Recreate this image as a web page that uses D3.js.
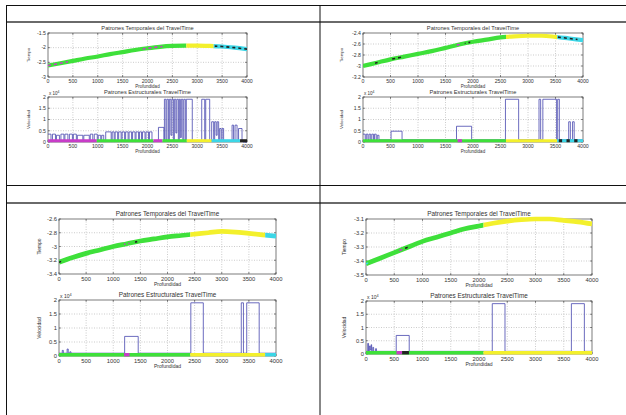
<!DOCTYPE html>
<html>
<head>
<meta charset="utf-8">
<script src="https://cdn.jsdelivr.net/npm/d3@7"></script>
<style>
  body { margin: 0; background: #fff; }
  svg text { font-family: "Liberation Sans", Arial, sans-serif; fill: #333; }
</style>
</head>
<body>
<div id="chart"></div>
<script>
// ---- data ----
var profundidad = [0, 250, 500, 750, 1000, 1250, 1500, 1750, 2000, 2250, 2500, 2750, 3000, 3250, 3500, 3750, 4000];
var depthTicks = [0, 500, 1000, 1500, 2000, 2500, 3000, 3500, 4000];
var velTicks = [0, 0.5, 1, 1.5, 2];

// panel 1 (arriba izquierda)
var tiempo1 = [-2.61, -2.53, -2.45, -2.37, -2.30, -2.22, -2.15, -2.08, -2.02, -1.97, -1.94, -1.93, -1.93, -1.94, -1.96, -2.00, -2.05];
var tiempoTicks1 = [-3, -2.5, -2, -1.5];
var tramos1 = [[0, 2780, "verde"], [2780, 3330, "amarillo"], [3330, 4000, "cian"]];
var trazos1 = [[0, 400, "magenta"], [1900, 2300, "magenta"], [3350, 4000, "negro"]];
var velocidad1 = [[0, 0.35], [60, 0.02], [90, 0.35], [150, 0.02], [170, 0.3], [230, 0.02], [260, 0.35], [320, 0.02], [340, 0.35], [400, 0.02],
  [430, 0.35], [490, 0.02], [510, 0.35], [570, 0.02], [590, 0.3], [700, 0.02], [720, 0.3], [830, 0.02], [850, 0.35], [900, 0.02],
  [930, 0.35], [990, 0.02], [1010, 0.3], [1060, 0.02], [1080, 0.3], [1120, 0.02], [1160, 0.45], [1270, 0.02], [1290, 0.45], [1330, 0.02],
  [1350, 0.45], [1400, 0.02], [1420, 0.45], [1470, 0.02], [1490, 0.45], [1540, 0.02], [1560, 0.45], [1610, 0.02], [1630, 0.45], [1680, 0.02],
  [1700, 0.45], [1750, 0.02], [1770, 0.45], [1820, 0.02], [1840, 0.45], [1880, 0.02], [1900, 0.45], [1950, 0.02], [1970, 0.45], [2020, 0.02],
  [2040, 0.45], [2090, 0.02], [2150, 0.05], [2220, 0.65], [2330, 0.05], [2340, 1.9], [2370, 0.1], [2390, 1.9], [2420, 0.1], [2440, 1.9],
  [2470, 0.3], [2490, 1.9], [2520, 0.1], [2540, 1.9], [2570, 0.4], [2590, 1.9], [2620, 0.1], [2640, 1.9], [2660, 0.2], [2680, 1.9],
  [2710, 0.1], [2730, 1.9], [2760, 0.1], [2780, 1.9], [2900, 0.05], [3090, 1.9], [3150, 0.05], [3170, 1.9], [3250, 0.05], [3290, 0.9],
  [3330, 0.05], [3350, 0.9], [3380, 0.3], [3400, 0.9], [3430, 0.05], [3450, 0.6], [3480, 0.05], [3500, 0.6], [3530, 0.05], [3700, 0.75],
  [3730, 0.05], [3760, 0.75], [3800, 0.05], [3830, 0.6], [3900, 0.05], [3920, 0], [4000, 0]];
var base1 = [[0, 980, "magenta"], [980, 2120, "verde"], [2120, 2300, "magenta"], [2300, 2790, "verde"], [2790, 3290, "amarillo"], [3290, 3860, "cian"], [3860, 4000, "negro"]];

// panel 2 (arriba derecha)
var tiempo2 = [-3.00, -2.94, -2.88, -2.83, -2.78, -2.73, -2.67, -2.61, -2.56, -2.52, -2.48, -2.46, -2.45, -2.45, -2.47, -2.50, -2.53];
var tiempoTicks2 = [-3.2, -3, -2.8, -2.6, -2.4];
var tramos2 = [[0, 2600, "verde"], [2600, 3530, "amarillo"], [3530, 4000, "cian"]];
var trazos2 = [[220, 300, "negro"], [500, 720, "negro"], [1700, 1780, "magenta"], [1850, 1950, "negro"], [3530, 3900, "negro"]];
var velocidad2 = [[0, 0.35], [40, 0.1], [60, 0.35], [90, 0.1], [110, 0.35], [140, 0.1], [160, 0.35], [190, 0.1], [210, 0.35], [240, 0.1],
  [260, 0.3], [290, 0.1], [510, 0.48], [710, 0.1], [1700, 0.7], [1975, 0.1], [2590, 1.9], [2830, 0.1], [3200, 1.9], [3230, 0.1],
  [3270, 1.9], [3520, 0.1], [3540, 1.9], [3570, 0.1], [3740, 0.9], [3770, 0.1], [3810, 0.9], [3840, 0.1], [4000, 0.1]];
var base2 = [[0, 2600, "verde"], [1720, 1800, "magenta"], [2600, 3530, "amarillo"], [3530, 4000, "cian"], [3560, 3620, "negro"], [3700, 3760, "negro"], [3840, 3900, "negro"]];

// panel 3 (abajo izquierda)
var tiempo3 = [-3.23, -3.16, -3.10, -3.05, -3.00, -2.96, -2.92, -2.89, -2.86, -2.84, -2.82, -2.80, -2.78, -2.79, -2.81, -2.83, -2.85];
var tiempoTicks3 = [-3.4, -3.2, -3, -2.8, -2.6];
var tramos3 = [[0, 2420, "verde"], [2420, 3800, "amarillo"], [3800, 4000, "cian"]];
var trazos3 = [[0, 40, "negro"], [1200, 1300, "magenta"], [1400, 1480, "negro"]];
var velocidad3 = [[0, 0.1], [60, 0.2], [80, 0.1], [150, 0.25], [170, 0.1], [200, 0.15], [220, 0.1], [1210, 0.7], [1460, 0.1],
  [2430, 1.9], [2660, 0.1], [3360, 1.9], [3400, 0.1], [3460, 1.9], [3690, 0.1], [4000, 0.1]];
var base3 = [[0, 2420, "verde"], [1200, 1300, "magenta"], [2420, 3800, "amarillo"], [3800, 4000, "cian"]];

// panel 4 (abajo derecha)
var tiempo4 = [-3.42, -3.38, -3.34, -3.30, -3.26, -3.23, -3.20, -3.17, -3.15, -3.13, -3.115, -3.105, -3.10, -3.10, -3.11, -3.12, -3.135];
var tiempoTicks4 = [-3.5, -3.4, -3.3, -3.2, -3.1];
var tramos4 = [[0, 2080, "verde"], [2080, 4000, "amarillo"]];
var trazos4 = [[0, 40, "cian"], [580, 650, "magenta"], [680, 740, "negro"]];
var velocidad4 = [[0, 0.1], [30, 0.4], [45, 0.1], [60, 0.3], [75, 0.15], [90, 0.35], [100, 0.1], [120, 0.25], [135, 0.1], [170, 0.2],
  [185, 0.1], [535, 0.7], [765, 0.1], [2235, 1.9], [2460, 0.1], [3635, 1.9], [3865, 0.1], [4000, 0.1]];
var base4 = [[0, 2080, "verde"], [540, 640, "magenta"], [640, 760, "negro"], [2080, 4000, "amarillo"]];

var colores = d3.scaleOrdinal()
  .domain(["verde", "amarillo", "cian", "magenta", "negro"])
  .range(["#3ee03a", "#f3f02c", "#3cd6e6", "#c83cc8", "#222"]);

// ---- layout ----
var W = 626, H = 415;
var svg = d3.select("#chart").append("svg").attr("width", W).attr("height", H);

// table lines
svg.append("line").attr("x1", 6).attr("x2", W).attr("y1", 5.5).attr("y2", 5.5).attr("stroke", "#111").attr("stroke-width", 1);
svg.append("line").attr("x1", 6).attr("x2", W).attr("y1", 22).attr("y2", 22).attr("stroke", "#6a6a6a").attr("stroke-width", 2);
svg.append("line").attr("x1", 6).attr("x2", W).attr("y1", 185.5).attr("y2", 185.5).attr("stroke", "#111").attr("stroke-width", 1);
svg.append("line").attr("x1", 6).attr("x2", W).attr("y1", 203).attr("y2", 203).attr("stroke", "#6a6a6a").attr("stroke-width", 2);
svg.append("line").attr("x1", 6.5).attr("x2", 6.5).attr("y1", 5).attr("y2", H).attr("stroke", "#111").attr("stroke-width", 1);
svg.append("line").attr("x1", 320).attr("x2", 320).attr("y1", 5).attr("y2", H).attr("stroke", "#111").attr("stroke-width", 1);

var panels = [
  {x0: 48, x1: 247, top: [33, 77], bot: [97, 142], ylx: 28, k: 1, tiempo: tiempo1, tt: tiempoTicks1, tramos: tramos1, trazos: trazos1, vel: velocidad1, base: base1},
  {x0: 363, x1: 583, top: [33, 77], bot: [97, 142], ylx: 341, k: 1, tiempo: tiempo2, tt: tiempoTicks2, tramos: tramos2, trazos: trazos2, vel: velocidad2, base: base2},
  {x0: 59, x1: 276, top: [219, 274], bot: [300, 356], ylx: 39, k: 1.12, tiempo: tiempo3, tt: tiempoTicks3, tramos: tramos3, trazos: trazos3, vel: velocidad3, base: base3},
  {x0: 366, x1: 592, top: [219, 275], bot: [301, 354], ylx: 344, k: 1.12, tiempo: tiempo4, tt: tiempoTicks4, tramos: tramos4, trazos: trazos4, vel: velocidad4, base: base4}
];

var clipId = 0;

function drawAxes(g, x, y, yTicks, p, title, ylabel, yTop, yBot) {
  var k = p.k;
  // grid
  g.append("g").selectAll("line").data(depthTicks.slice(1, -1)).enter().append("line")
    .attr("x1", d => x(d)).attr("x2", d => x(d)).attr("y1", yTop).attr("y2", yBot)
    .attr("stroke", "#aaa").attr("stroke-width", 0.6).attr("stroke-dasharray", "1,1.5");
  g.append("g").selectAll("line").data(yTicks.slice(1, -1)).enter().append("line")
    .attr("x1", p.x0).attr("x2", p.x1).attr("y1", d => y(d)).attr("y2", d => y(d))
    .attr("stroke", "#aaa").attr("stroke-width", 0.6).attr("stroke-dasharray", "1,1.5");
  // box + inward ticks
  g.append("rect").attr("x", p.x0).attr("y", yTop).attr("width", p.x1 - p.x0).attr("height", yBot - yTop)
    .attr("fill", "none").attr("stroke", "#444").attr("stroke-width", 0.7);
  var tk = g.append("g").attr("stroke", "#444").attr("stroke-width", 0.6);
  depthTicks.forEach(function(d) {
    tk.append("line").attr("x1", x(d)).attr("x2", x(d)).attr("y1", yBot).attr("y2", yBot - 2);
    tk.append("line").attr("x1", x(d)).attr("x2", x(d)).attr("y1", yTop).attr("y2", yTop + 2);
  });
  yTicks.forEach(function(d) {
    tk.append("line").attr("x1", p.x0).attr("x2", p.x0 + 2).attr("y1", y(d)).attr("y2", y(d));
    tk.append("line").attr("x1", p.x1).attr("x2", p.x1 - 2).attr("y1", y(d)).attr("y2", y(d));
  });
  // tick labels
  g.append("g").selectAll("text").data(depthTicks).enter().append("text")
    .attr("x", d => x(d)).attr("y", yBot + 6.3 * k)
    .attr("text-anchor", "middle").attr("font-size", 5.2 * k).text(d => d);
  g.append("g").selectAll("text").data(yTicks).enter().append("text")
    .attr("x", p.x0 - 2).attr("y", d => y(d) + 1.8 * k)
    .attr("text-anchor", "end").attr("font-size", 5.2 * k).text(d => String(d));
  // labels
  g.append("text").attr("x", (p.x0 + p.x1) / 2).attr("y", yBot + 10.8 * k)
    .attr("text-anchor", "middle").attr("font-size", 4.5 * k).text("Profundidad");
  g.append("text").attr("transform", "translate(" + (p.ylx + 1.5) + "," + ((yTop + yBot) / 2) + ") rotate(-90)")
    .attr("text-anchor", "middle").attr("font-size", 4.4 * k).text(ylabel);
  g.append("text").attr("x", (p.x0 + p.x1) / 2).attr("y", yTop - 3)
    .attr("text-anchor", "middle").attr("font-size", 5.7 * k).text(title);
}

function clipRange(g, x, a, b, yTop, yBot) {
  var id = "clip" + (clipId++);
  g.append("clipPath").attr("id", id).append("rect")
    .attr("x", x(a)).attr("width", x(b) - x(a)).attr("y", yTop - 10).attr("height", yBot - yTop + 20);
  return "url(#" + id + ")";
}

panels.forEach(function(p) {
  var g = svg.append("g");
  var x = d3.scaleLinear().domain([0, 4000]).range([p.x0, p.x1]);

  // ---- Patrones Temporales ----
  var yT = d3.scaleLinear().domain(d3.extent(p.tt)).range([p.top[1], p.top[0]]);
  drawAxes(g, x, yT, p.tt, p, "Patrones Temporales del TravelTime", "Tiempo", p.top[0], p.top[1]);
  var curva = d3.line().x((d, i) => x(profundidad[i])).y(d => yT(d)).curve(d3.curveMonotoneX);
  p.tramos.forEach(function(t) {
    g.append("path").attr("d", curva(p.tiempo)).attr("fill", "none")
      .attr("stroke", colores(t[2])).attr("stroke-width", 4.2 * p.k)
      .attr("clip-path", clipRange(g, x, t[0], t[1], p.top[0], p.top[1]));
  });
  p.trazos.forEach(function(t) {
    g.append("path").attr("d", curva(p.tiempo)).attr("fill", "none")
      .attr("stroke", colores(t[2])).attr("stroke-width", 1.6)
      .attr("stroke-dasharray", "3,3")
      .attr("clip-path", clipRange(g, x, t[0], t[1], p.top[0], p.top[1]));
  });

  // ---- Patrones Estructurales ----
  var yV = d3.scaleLinear().domain([0, 2]).range([p.bot[1], p.bot[0]]);
  drawAxes(g, x, yV, velTicks, p, "Patrones Estructurales TravelTime", "Velocidad", p.bot[0], p.bot[1]);
  var exp = g.append("text").attr("x", p.x0 + 1).attr("y", p.bot[0] - 2.5).attr("font-size", 4.5 * p.k);
  exp.append("tspan").text("x 10");
  exp.append("tspan").attr("dy", -2).attr("font-size", 3.4 * p.k).text("4");

  g.append("path").datum(p.vel)
    .attr("d", d3.line().x(d => x(d[0])).y(d => yV(d[1])).curve(d3.curveStepAfter))
    .attr("fill", "none").attr("stroke", "#4646ae").attr("stroke-width", 0.8);

  g.append("g").selectAll("line").data(p.base).enter().append("line")
    .attr("x1", d => x(d[0])).attr("x2", d => x(d[1]))
    .attr("y1", yV(0) - 1.3).attr("y2", yV(0) - 1.3)
    .attr("stroke", d => colores(d[2])).attr("stroke-width", 3 * p.k);
});
</script>
</body>
</html>
